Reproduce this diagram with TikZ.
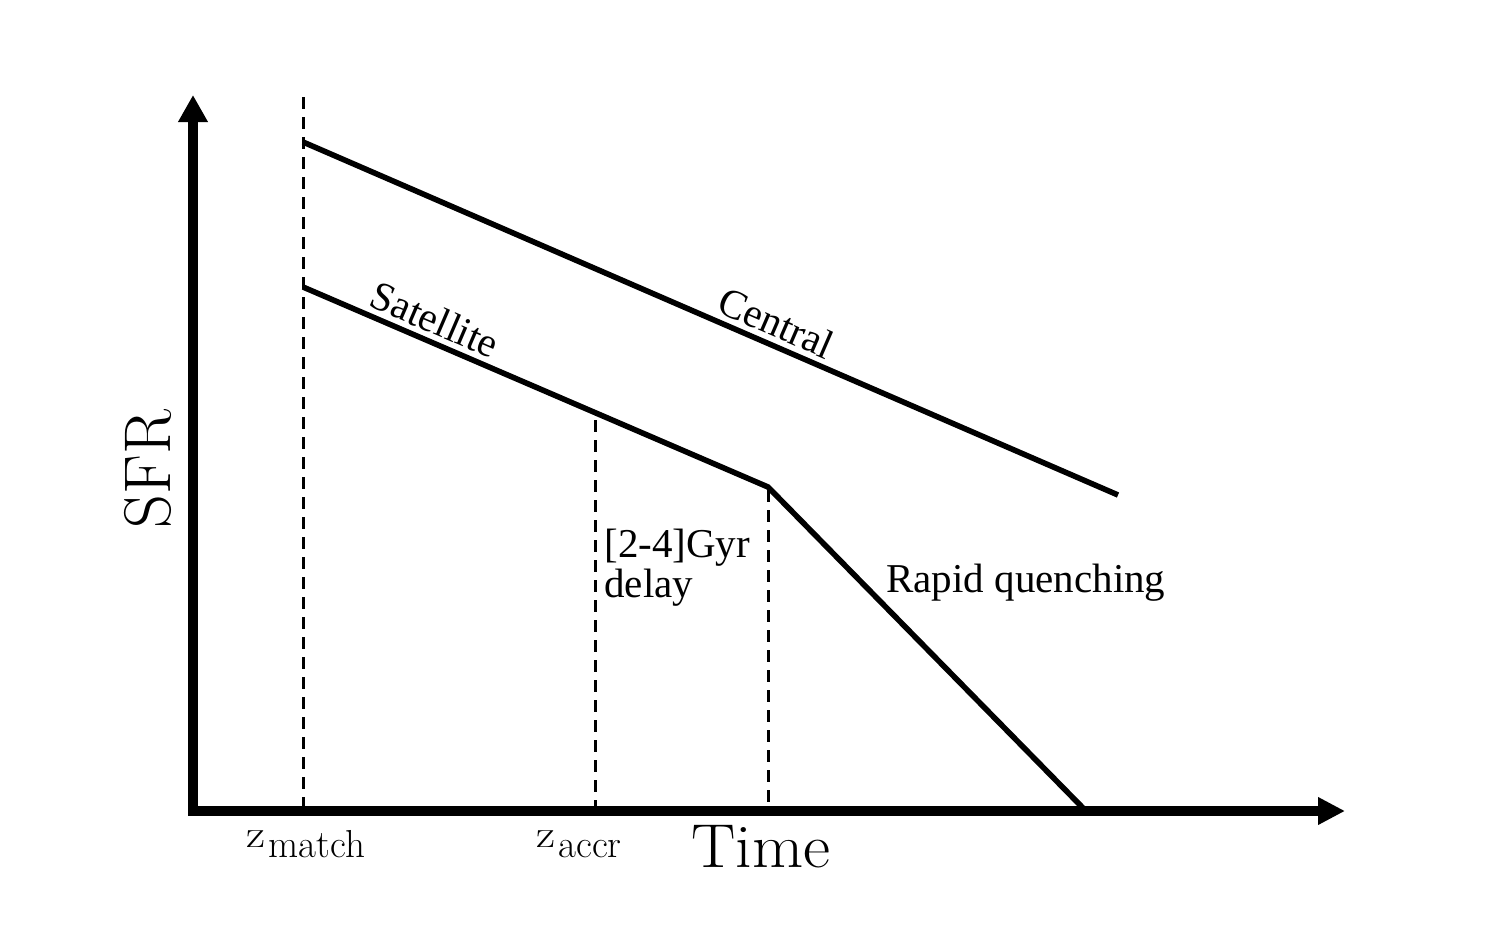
\documentclass[tikz,border=0pt]{standalone}
\usepackage{fontspec}
\newfontfamily\timesf{Liberation Serif}
\usetikzlibrary{arrows.meta}
\begin{document}
\begin{tikzpicture}[x=0.5pt,y=-0.5pt,
  yaxis/.style={line width=4.8pt, -{Triangle[length=13.5pt,width=14pt]}},
  xaxis/.style={line width=4.8pt, -{Triangle[length=13.5pt,width=13pt]}},
  curve/.style={line width=2.8pt, line join=miter},
  guide/.style={line width=1.5pt, dash pattern=on 6pt off 4pt},
  lbl/.style={font=\timesf\fontsize{20.5pt}{24pt}\selectfont, inner sep=0pt},
  slbl/.style={font=\timesf\fontsize{20.5pt}{24pt}\selectfont, inner sep=2.5pt, sloped, above},
  cmlbl/.style={inner sep=0pt}]
\useasboundingbox (0,0) rectangle (1500,927);
% axes
\coordinate (yb) at (193,815);
\coordinate (yt) at (193,95);
\coordinate (xl) at (188,811);
\coordinate (xr) at (1345,811);
\draw[yaxis] (yb) -- (yt);
\draw[xaxis] (xl) -- (xr);
% guides
\coordinate (m0) at (303,97);
\coordinate (m1) at (303,806);
\coordinate (a0) at (595,420);
\coordinate (a1) at (595,806);
\coordinate (q0) at (768,490);
\coordinate (q1) at (768,806);
\draw[guide] (m0) -- (m1);
\draw[guide] (a0) -- (a1);
\draw[guide] (q0) -- (q1);
% curves
\coordinate (c0) at (303,142);
\coordinate (c1) at (1118,495);
\coordinate (s0) at (303,287);
\coordinate (s1) at (768,487);
\coordinate (s2) at (1083,808);
\draw[curve] (c0) -- (c1) node[slbl, pos=0.57] (cen) {Central};
\draw[curve] (s0) -- (s1) node[slbl, pos=0.265] (sat) {Satellite} -- (s2);
% labels
\node[lbl, anchor=base west] (gyr) at (604,557) {[2-4]Gyr};
\node[lbl, anchor=base west] (delay) at (604,597) {delay};
\node[lbl, anchor=base west] (rq) at (886,592) {Rapid quenching};
\node[cmlbl, anchor=base] (time) at (761,867) {\fontsize{31pt}{34pt}\selectfont\scalebox{1.07}[1]{Time}};
\node[cmlbl, rotate=90] (sfr) at (148,469) {\fontsize{33pt}{36pt}\selectfont SFR};
\node[cmlbl, anchor=base west] (zm) at (246,847) {\fontsize{19.5pt}{22pt}\selectfont\scalebox{1.2}[1]{z}\hspace{1.5pt}\raisebox{-5pt}{match}};
\node[cmlbl, anchor=base west] (za) at (536,847) {\fontsize{19.5pt}{22pt}\selectfont\scalebox{1.2}[1]{z}\hspace{1.5pt}\raisebox{-5pt}{accr}};
\end{tikzpicture}
\end{document}
